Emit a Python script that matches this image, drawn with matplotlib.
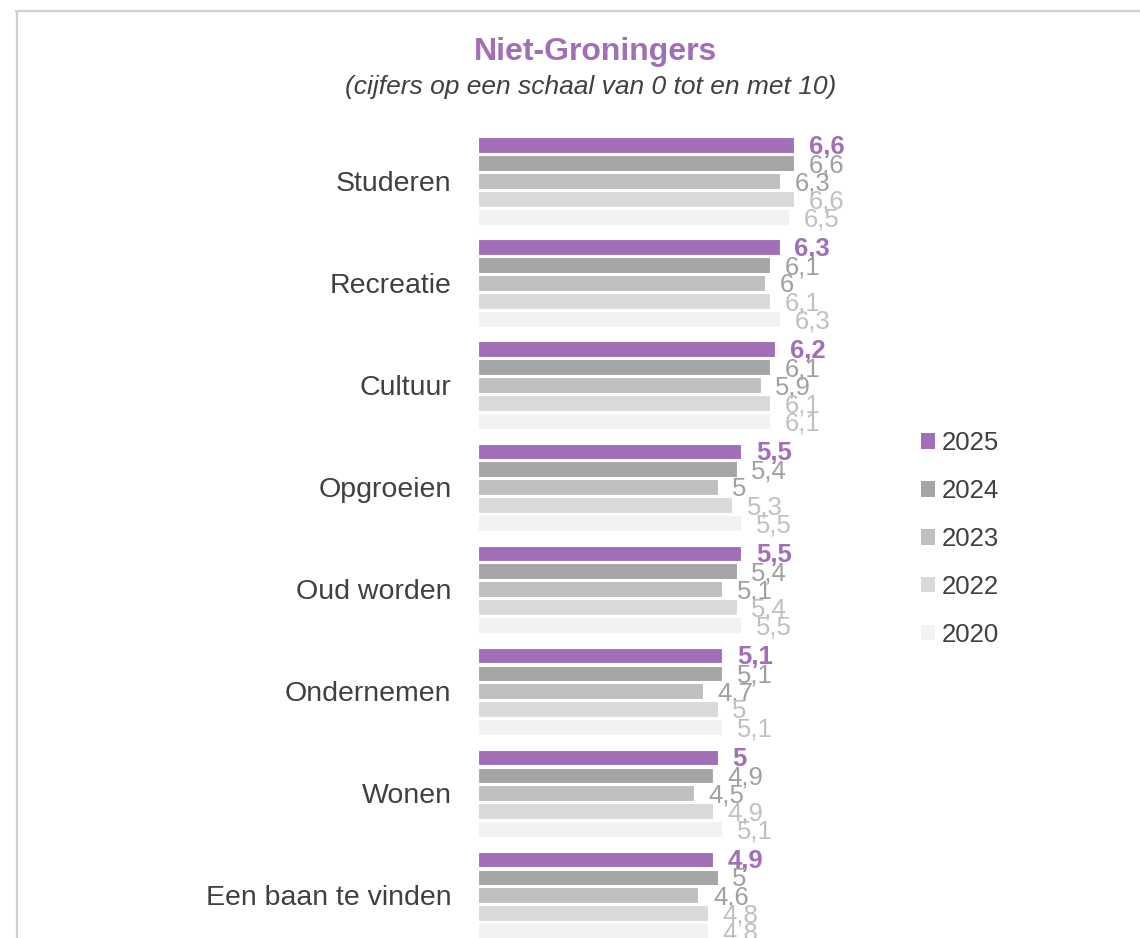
import matplotlib.pyplot as plt
import numpy as np
from matplotlib.patches import Patch
from matplotlib.lines import Line2D

plt.rcParams['font.family'] = ['Liberation Sans', 'DejaVu Sans']

categories = ['Studeren', 'Recreatie', 'Cultuur', 'Opgroeien', 'Oud worden',
              'Ondernemen', 'Wonen', 'Een baan te vinden']
years = ['2025', '2024', '2023', '2022', '2020']
v2025 = [6.6, 6.3, 6.2, 5.5, 5.5, 5.1, 5.0, 4.9]
v2024 = [6.6, 6.1, 6.1, 5.4, 5.4, 5.1, 4.9, 5.0]
v2023 = [6.3, 6.0, 5.9, 5.0, 5.1, 4.7, 4.5, 4.6]
v2022 = [6.6, 6.1, 6.1, 5.3, 5.4, 5.0, 4.9, 4.8]
v2020 = [6.5, 6.3, 6.1, 5.5, 5.5, 5.1, 5.1, 4.8]
series = [v2025, v2024, v2023, v2022, v2020]

purple = '#A16FB7'
bar_colors = [purple, '#A5A5A5', '#BFBFBF', '#D9D9D9', '#F2F2F2']
label_colors = [purple, '#A0A0A0', '#A0A0A0', '#C0C0C0', '#C0C0C0']
text_col = '#404040'

W, H = 1140, 938
fig = plt.figure(figsize=(W / 100, H / 100), dpi=100)

# outer border (top + left), like the Excel chart frame
fig.add_artist(Line2D([16 / W, 1], [1 - 11 / H, 1 - 11 / H], color='#D0D0D0', lw=1.6))
fig.add_artist(Line2D([17 / W, 17 / W], [0, 1 - 11 / H], color='#D0D0D0', lw=1.6))

ax = fig.add_axes([478 / W, 0, 479 / W, (H - 120) / H])
y = np.arange(len(categories))
step = 0.176
for k, vals in enumerate(series):
    pos = y + (k - 2) * step
    ax.barh(pos, vals, height=0.15, color=bar_colors[k], edgecolor='white',
            linewidth=0.8, label=years[k])
    for p, v in zip(pos, vals):
        txt = f'{v:g}'.replace('.', ',')
        ax.annotate(txt, (v, p), xytext=(10.5, -1.5), textcoords='offset points',
                    va='center', ha='left', fontsize=18.5,
                    color=label_colors[k],
                    fontweight='bold' if k == 0 else 'normal')

ax.set_xlim(0, 10)
ax.set_ylim(7.42, -0.598)
ax.set_yticks(y)
ax.set_yticklabels(categories, fontsize=20.5, color=text_col)
ax.tick_params(axis='y', length=0, pad=19)
ax.set_xticks([])
for s in ax.spines.values():
    s.set_visible(False)

fig.text(595 / W, 1 - 52 / H, 'Niet-Groningers', ha='center', va='center',
         fontsize=23, fontweight='bold', color=purple)
fig.text(591 / W, 1 - 87 / H, '(cijfers op een schaal van 0 tot en met 10)',
         ha='center', va='center', fontsize=19, style='italic', color=text_col)

handles = [Patch(facecolor=c, edgecolor='none') for c in bar_colors]
fig.legend(handles, years, loc='upper left', bbox_to_anchor=(898 / W, 1 - 408 / H),
           frameon=False, fontsize=18.5, handlelength=0.55, handleheight=0.55,
           handletextpad=0.25, labelspacing=0.93, labelcolor=text_col)

fig.savefig('out.png', dpi=100)
